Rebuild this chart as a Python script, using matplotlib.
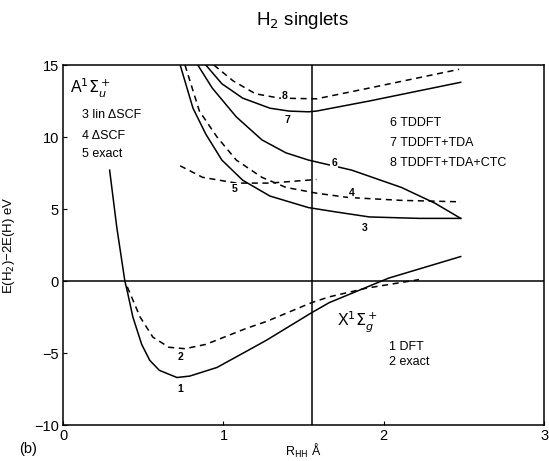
import matplotlib
matplotlib.use("Agg")
import matplotlib.pyplot as plt

plt.rcParams['font.family'] = ['Liberation Sans', 'DejaVu Sans']

# ground state X (1 DFT, 2 exact)
r1 = [0.29, 0.335, 0.385, 0.40, 0.435, 0.49, 0.54, 0.60, 0.71, 0.79, 0.96, 1.14, 1.27, 1.55, 1.66, 2.03, 2.48]
e1 = [7.7, 3.7, 0.0, -0.7, -2.5, -4.4, -5.5, -6.2, -6.7, -6.6, -6.0, -4.9, -4.1, -2.2, -1.5, 0.2, 1.7]
r2 = [0.40, 0.48, 0.56, 0.66, 0.76, 0.89, 1.14, 1.27, 1.55, 1.66, 1.89, 2.22]
e2 = [-0.4, -2.5, -3.9, -4.6, -4.7, -4.4, -3.3, -2.8, -1.5, -1.1, -0.5, 0.1]

# excited state A
r3 = [0.73, 0.81, 0.89, 0.99, 1.12, 1.29, 1.53, 1.70, 1.91, 2.22, 2.48]
e3 = [15.0, 12.0, 10.2, 8.4, 7.0, 5.9, 5.1, 4.8, 4.45, 4.35, 4.35]
r4 = [0.76, 0.85, 0.96, 1.08, 1.24, 1.39, 1.58, 1.78, 2.11, 2.48]
e4 = [15.0, 11.8, 10.0, 8.4, 7.2, 6.5, 6.1, 5.8, 5.6, 5.5]
r5 = [0.73, 0.87, 1.08, 1.29, 1.58]
e5 = [8.0, 7.2, 6.8, 6.8, 7.05]
r6 = [0.84, 0.93, 1.08, 1.24, 1.39, 1.53, 1.80, 2.11, 2.32, 2.48]
e6 = [15.0, 13.4, 11.4, 9.8, 8.9, 8.4, 7.7, 6.5, 5.4, 4.35]
r7 = [0.89, 0.99, 1.12, 1.29, 1.41, 1.53, 1.58, 1.91, 2.48]
e7 = [15.0, 13.7, 12.7, 12.0, 11.8, 11.75, 11.8, 12.5, 13.8]
r8 = [0.94, 1.06, 1.20, 1.35, 1.58, 1.91, 2.47]
e8 = [15.0, 13.9, 13.0, 12.7, 12.65, 13.4, 14.7]

curves = [(r1, e1, '-'), (r2, e2, '--'), (r3, e3, '-'), (r4, e4, '--'),
          (r5, e5, '--'), (r6, e6, '-'), (r7, e7, '-'), (r8, e8, '--')]

# curve number labels
num_x = [0.73, 0.73, 1.88, 1.80, 1.07, 1.69, 1.40, 1.38]
num_y = [-7.5, -5.3, 3.7, 6.1, 6.4, 8.2, 11.2, 12.85]

fig = plt.figure(figsize=(5.49, 4.61), dpi=100)
ax = fig.add_axes([0.115, 0.078, 0.876, 0.781])

for r, e, ls in curves:
    if ls == '--':
        ax.plot(r, e, color='black', lw=1.1, ls='--', dashes=(4, 3))
    else:
        ax.plot(r, e, color='black', lw=1.1)

ax.axhline(0, color='black', lw=1.1)
ax.axvline(1.55, color='black', lw=1.1)

for i, (x, y) in enumerate(zip(num_x, num_y)):
    ax.text(x, y, str(i + 1), fontsize=7.5, ha='center', va='center',
            fontweight='bold', bbox=dict(facecolor='white', edgecolor='none', pad=0.5))

ax.text(0.04, 13.4, r'A$^1\Sigma_u^+$', fontsize=11.5, va='center')
ax.text(0.12, 11.5, '3 lin ΔSCF', fontsize=9, va='center')
ax.text(0.12, 10.1, '4 ΔSCF', fontsize=9, va='center')
ax.text(0.12, 8.85, '5 exact', fontsize=9, va='center')
ax.text(2.04, 11.0, '6 TDDFT', fontsize=9, va='center')
ax.text(2.04, 9.6, '7 TDDFT+TDA', fontsize=9, va='center')
ax.text(2.04, 8.2, '8 TDDFT+TDA+CTC', fontsize=9, va='center')
ax.text(1.71, -2.9, r'X$^1\Sigma_g^+$', fontsize=11.5, va='center')
ax.text(2.03, -4.55, '1 DFT', fontsize=9, va='center')
ax.text(2.03, -5.6, '2 exact', fontsize=9, va='center')

ax.set_xlim(0, 3)
ax.set_ylim(-10, 15)
ax.set_xticks([0, 1, 2, 3])
ax.set_yticks([-10, -5, 0, 5, 10, 15])
ax.set_yticklabels(['−10', '−5', '0', '5', '10', '15'])
ax.tick_params(direction='in', length=3, labelsize=10.5, pad=3)
for s in ax.spines.values():
    s.set_linewidth(1.1)

ax.set_xlabel(r'R$_{\rm HH}$ Å', fontsize=9, labelpad=-1)
ax.set_ylabel(r'E(H$_2$)−2E(H) eV', fontsize=9.5, labelpad=12)
fig.text(0.035, 0.018, '(b)', fontsize=10.5)
fig.text(0.55, 0.955, r'H$_2$ singlets', fontsize=13.5, ha='center', va='center')

fig.savefig('out.png', dpi=100)
